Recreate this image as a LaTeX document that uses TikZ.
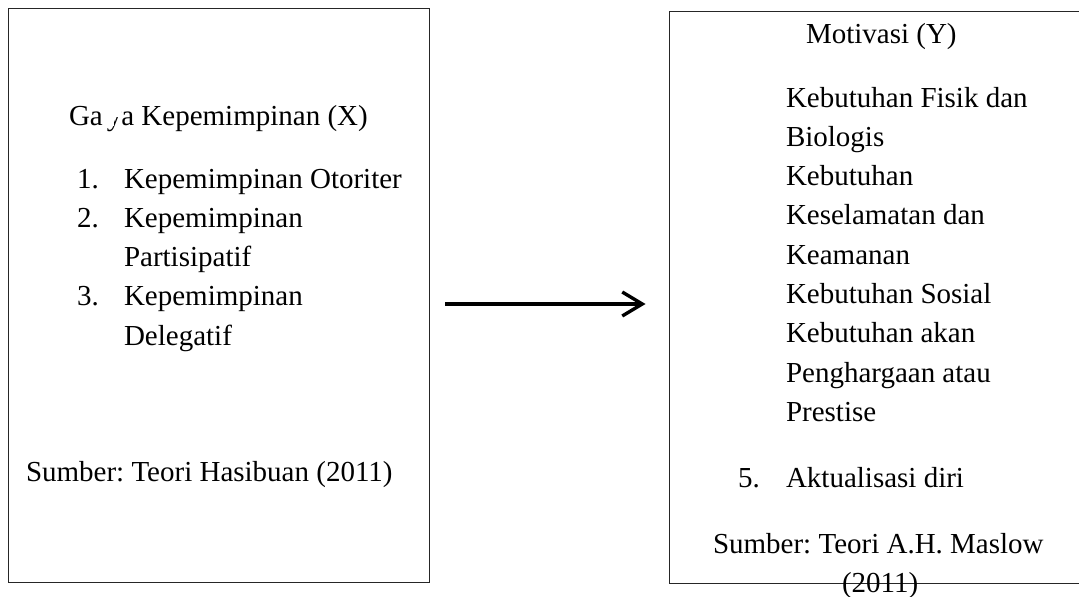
\documentclass[tikz,border=0pt]{standalone}
\usepackage{fontspec}
\setmainfont{Liberation Serif}
\usetikzlibrary{arrows.meta}
\frenchspacing
\begin{document}
\frenchspacing
\begin{tikzpicture}[x=1pt,y=-1pt,
  boxframe/.style={draw=black!85,line width=0.9pt,inner sep=0pt,fill=none},
  txt/.style={anchor=base west,inner sep=0pt,outer sep=0pt,font=\fontsize{29}{39}\selectfont\frenchspacing},
  mask/.style={fill=white,draw=none},
  link/.style={line width=3.4pt,-{Straight Barb[length=20pt,width=24pt]}}]
\clip (0,0) rectangle (1079,597);
\fill[white] (0,0) rectangle (1079,597);
% boxes
\node[boxframe,minimum width=421pt,minimum height=574pt] (L) at (218.5,295) {};
\node[boxframe,minimum width=416pt,minimum height=572pt] (R) at (877,297) {};
% left box text
\node[txt] (ga) at (69,125) {Ga};
\node[txt] (gy) at ([xshift=4pt]ga.base east) {y};
\node[txt] (gtitle) at (gy.base east) {a Kepemimpinan (X)};
\fill[mask] ([yshift=2pt]gy.north west) rectangle ([yshift=8pt]gy.base east);
\fill[mask] ([yshift=8.5pt]gy.base west) rectangle ([xshift=-0.5pt,yshift=-0.5pt]gy.base);
\node[txt] (n1) at (77,188) {1.};
\node[txt] (i1) at (124,188) {Kepemimpinan Otoriter};
\node[txt] (n2) at (77,227.3) {2.};
\node[txt] (i2) at (124,227.3) {Kepemimpinan};
\node[txt] (i2b) at (124,266.6) {Partisipatif};
\node[txt] (n3) at (77,305.9) {3.};
\node[txt] (i3) at (124,305.9) {Kepemimpinan};
\node[txt] (i3b) at (124,345.2) {Delegatif};
\node[txt] (srcL) at (26,481) {Sumber: Teori Hasibuan (2011)};
% right box text
\node[txt] (mtitle) at (806,43) {Motivasi (Y)};
\node[txt] (r1) at (786,107) {Kebutuhan Fisik dan};
\node[txt] (r2) at (786,146.3) {Biologis};
\node[txt] (r3) at (786,185.6) {Kebutuhan};
\node[txt] (r4) at (786,224.9) {Keselamatan dan};
\node[txt] (r5) at (786,264.2) {Keamanan};
\node[txt] (r6) at (786,303.5) {Kebutuhan Sosial};
\node[txt] (r7) at (786,342.8) {Kebutuhan akan};
\node[txt] (r8) at (786,382.1) {Penghargaan atau};
\node[txt] (r9) at (786,421.4) {Prestise};
\node[txt] (n5) at (738,487) {5.};
\node[txt] (r10) at (786,487) {Aktualisasi diri};
\node[txt] (srcR) at (713,553) {Sumber: Teori A.H. Maslow};
\node[txt] (srcR2) at (842,592) {(2011)};
% connector
\draw[link] ([xshift=16pt,yshift=-9pt]L.east) -- ([xshift=-23pt,yshift=-7pt]R.west);
\end{tikzpicture}
\end{document}
